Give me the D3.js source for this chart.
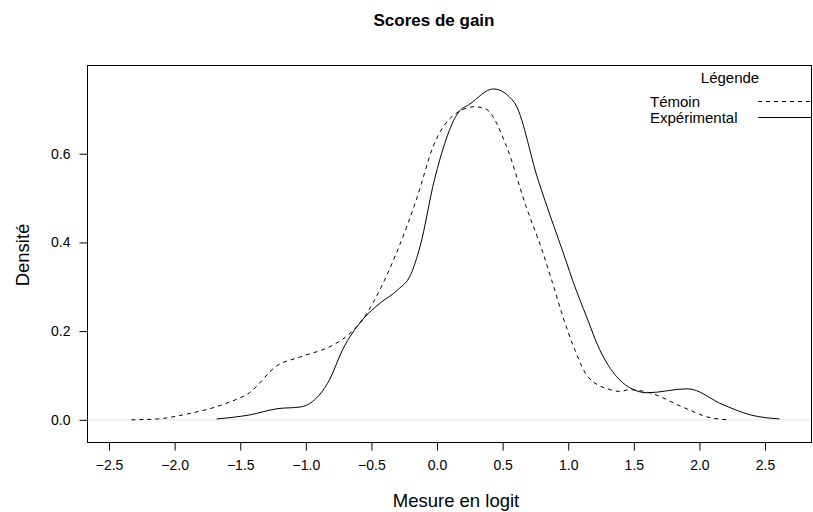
<!DOCTYPE html>
<html>
<head>
<meta charset="utf-8">
<script src="https://cdn.jsdelivr.net/npm/d3@7"></script>
<style>
  body { margin: 0; background: #fff; }
  text { font-family: "Liberation Sans", Arial, sans-serif; fill: #000; }
</style>
</head>
<body>
<div id="chart"></div>
<script>
// density estimates: [logit, density]
var temoin = [
  [-2.33, 0.000], [-2.13, 0.002], [-1.94, 0.011], [-1.60, 0.038], [-1.43, 0.061],
  [-1.22, 0.122], [-1.04, 0.142], [-0.79, 0.169], [-0.70, 0.186], [-0.57, 0.225],
  [-0.41, 0.309], [-0.30, 0.383], [-0.15, 0.503], [-0.03, 0.616], [0.15, 0.692],
  [0.29, 0.706], [0.38, 0.699], [0.53, 0.616], [0.68, 0.480], [0.80, 0.383],
  [0.88, 0.309], [0.96, 0.232], [1.05, 0.158], [1.15, 0.097], [1.32, 0.068],
  [1.39, 0.064], [1.47, 0.068], [1.62, 0.061], [1.87, 0.029], [2.08, 0.005],
  [2.23, 0.000]
];
var experimental = [
  [-1.68, 0.002], [-1.43, 0.011], [-1.22, 0.025], [-1.04, 0.029], [-0.95, 0.041],
  [-0.82, 0.090], [-0.72, 0.158], [-0.57, 0.225], [-0.43, 0.264], [-0.30, 0.293],
  [-0.20, 0.328], [-0.13, 0.390], [-0.02, 0.541], [0.16, 0.692], [0.25, 0.712],
  [0.43, 0.746], [0.59, 0.715], [0.77, 0.541], [0.98, 0.361], [1.04, 0.309],
  [1.14, 0.232], [1.24, 0.158], [1.37, 0.097], [1.46, 0.074], [1.60, 0.061],
  [1.91, 0.070], [2.18, 0.034], [2.39, 0.011], [2.61, 0.002]
];
var xTicks = [-2.5, -2.0, -1.5, -1.0, -0.5, 0.0, 0.5, 1.0, 1.5, 2.0, 2.5];
var yTicks = [0.0, 0.2, 0.4, 0.6];
var seriesNames = ['Témoin', 'Expérimental'];

var width = 813, height = 512;
var box = { left: 87, right: 812, top: 65, bottom: 442 };

var svg = d3.select('#chart').append('svg')
  .attr('width', width)
  .attr('height', height);

var x = d3.scaleLinear().domain([-2.668, 2.858]).range([box.left, box.right]);
var y = d3.scaleLinear().domain([-0.05, 0.8]).range([box.bottom, box.top]);

// light reference line at zero
svg.append('line')
  .attr('x1', box.left).attr('x2', box.right)
  .attr('y1', y(0)).attr('y2', y(0))
  .attr('stroke', '#e5e5e5');

var line = d3.line()
  .x(function (d) { return x(d[0]); })
  .y(function (d) { return y(d[1]); })
  .curve(d3.curveMonotoneX);

svg.append('path').datum(temoin)
  .attr('d', line)
  .attr('fill', 'none')
  .attr('stroke', '#000')
  .attr('stroke-dasharray', '4,4');

svg.append('path').datum(experimental)
  .attr('d', line)
  .attr('fill', 'none')
  .attr('stroke', '#000');

// box
svg.append('rect')
  .attr('x', box.left + 0.5).attr('y', box.top + 0.5)
  .attr('width', box.right - box.left - 1)
  .attr('height', box.bottom - box.top)
  .attr('fill', 'none')
  .attr('stroke', '#000');

var xAxis = svg.append('g')
  .attr('transform', 'translate(0,' + (box.bottom + 0.5) + ')')
  .call(d3.axisBottom(x).tickValues(xTicks).tickFormat(d3.format('.1f'))
    .tickSize(8).tickPadding(10));
xAxis.select('.domain').remove();
xAxis.selectAll('text').attr('font-size', 14).style('font-family', '"Liberation Sans", Arial, sans-serif');

var yAxis = svg.append('g')
  .attr('transform', 'translate(' + (box.left + 0.5) + ',0)')
  .call(d3.axisLeft(y).tickValues(yTicks).tickFormat(d3.format('.1f'))
    .tickSize(8).tickPadding(9));
yAxis.select('.domain').remove();
yAxis.selectAll('text').attr('font-size', 14).style('font-family', '"Liberation Sans", Arial, sans-serif');

svg.append('text')
  .attr('x', 434).attr('y', 26)
  .attr('text-anchor', 'middle')
  .attr('font-size', 17)
  .attr('font-weight', 'bold')
  .text('Scores de gain');

svg.append('text')
  .attr('x', 456).attr('y', 507)
  .attr('text-anchor', 'middle')
  .attr('font-size', 18.5)
  .text('Mesure en logit');

svg.append('text')
  .attr('transform', 'translate(29,255) rotate(-90)')
  .attr('text-anchor', 'middle')
  .attr('font-size', 18.5)
  .text('Densité');

// legend, no frame
var legend = svg.append('g');
legend.append('text')
  .attr('x', 730).attr('y', 83)
  .attr('text-anchor', 'middle')
  .attr('font-size', 15)
  .text('Légende');
legend.selectAll('.item').data(seriesNames).enter().append('text')
  .attr('x', 650)
  .attr('y', function (d, i) { return 106.5 + i * 16; })
  .attr('font-size', 15)
  .text(function (d) { return d; });
legend.selectAll('.key').data(seriesNames).enter().append('line')
  .attr('x1', 758).attr('x2', 812)
  .attr('y1', function (d, i) { return 101.5 + i * 16; })
  .attr('y2', function (d, i) { return 101.5 + i * 16; })
  .attr('stroke', '#000')
  .attr('stroke-dasharray', function (d, i) { return i === 0 ? '4,4' : null; });
</script>
</body>
</html>
